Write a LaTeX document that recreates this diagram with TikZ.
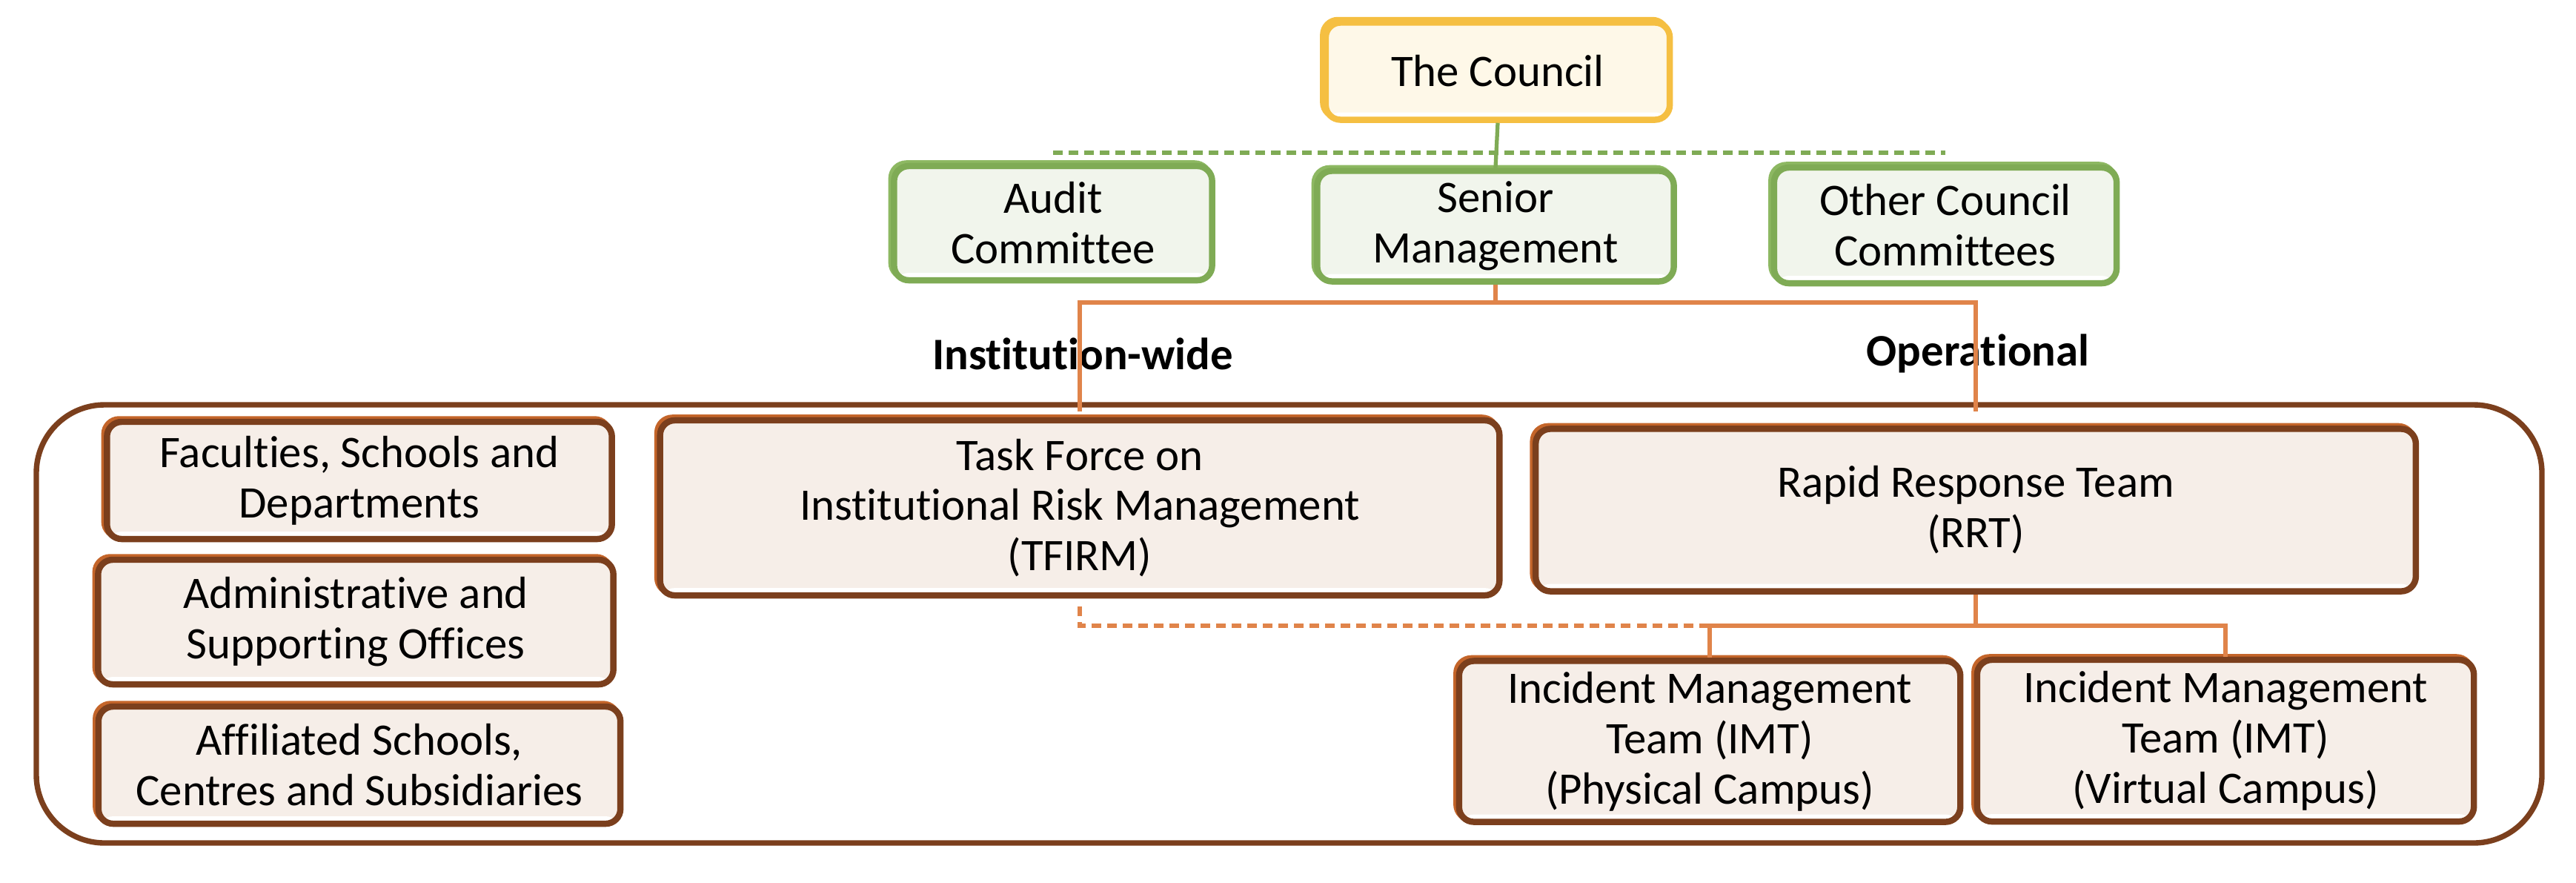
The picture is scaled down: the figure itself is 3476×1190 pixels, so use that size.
\documentclass[tikz,border=0pt]{standalone}
\usepackage{fontspec}
\setmainfont[Ligatures=NoCommon]{Carlito}
\usetikzlibrary{calc}
\definecolor{brownline}{HTML}{7B3F1D}
\definecolor{brownshade}{HTML}{C4652A}
\definecolor{brownfill}{HTML}{F6EEE8}
\definecolor{greenline}{HTML}{7FAB55}
\definecolor{greenshade}{HTML}{8DB862}
\definecolor{greenfill}{HTML}{F1F5EC}
\definecolor{yelline}{HTML}{F5BF42}
\definecolor{yelfill}{HTML}{FEF8E8}
\definecolor{orangeline}{HTML}{E0844A}
\tikzset{
  basebox/.style={rectangle, rounded corners=0.2cm, line width=2.4pt, align=center,
    inner sep=0pt, font=\fontsize{17.3}{19.3}\selectfont, text=black,
    path picture={\fill[white] ([yshift=-0.05cm]path picture bounding box.south west) rectangle ([yshift=0.1cm]path picture bounding box.south east);}},
  brownbox/.style={basebox, draw=brownline, fill=brownfill,
    preaction={draw=brownshade, line width=2.4pt, transform canvas={shift={(-0.035cm,0.035cm)}}}},
  greenbox/.style={basebox, draw=greenline, fill=greenfill,
    preaction={draw=greenshade, line width=2.4pt, transform canvas={shift={(-0.035cm,0.035cm)}}}},
  yelbox/.style={basebox, draw=yelline, fill=yelfill,
    preaction={draw=yelline, line width=2.4pt, transform canvas={shift={(-0.035cm,0.035cm)}}}},
  greenconn/.style={draw=greenline, line width=1.5pt},
  orangeconn/.style={draw=orangeline, line width=1.8pt},
  dashline/.style={dash pattern=on 0.13cm off 0.08cm},
  lbl/.style={font=\fontsize{17.3}{19.3}\selectfont\bfseries, inner sep=0pt}
}
\begin{document}
\begin{tikzpicture}[x=0.01cm,y=-0.01cm]
\useasboundingbox (0,0) rectangle (3476,1190);

% outer unit frame
\draw[brownline, line width=2.1pt, rounded corners=0.92cm] (49,546) rectangle (3430,1137);

% top level
\node[yelbox, minimum width=4.64cm, minimum height=1.31cm] (council) at (2021,96) {The Council};
\node[greenbox, minimum width=4.29cm, minimum height=1.54cm] (audit) at (1421,301) {Audit\\Committee};
\node[greenbox, minimum width=4.81cm, minimum height=1.49cm] (senior) at (2018,305) {Senior\\Management};
\node[greenbox, minimum width=4.62cm, minimum height=1.56cm] (other) at (2625,304) {Other Council\\Committees};

% left boxes
\node[brownbox, minimum width=6.81cm, minimum height=1.58cm] (fac) at (485,648) {Faculties, Schools and\\Departments};
\node[brownbox, minimum width=6.95cm, minimum height=1.68cm] (adm) at (480,839) {Administrative and\\Supporting Offices};
\node[brownbox, minimum width=7.04cm, minimum height=1.58cm] (aff) at (485,1032) {Affiliated Schools,\\Centres and Subsidiaries};

% teams
\node[brownbox, minimum width=11.32cm, minimum height=2.36cm] (tfirm) at (1457,685) {Task Force on\\Institutional Risk Management\\(TFIRM)};
\node[brownbox, minimum width=11.87cm, minimum height=2.19cm] (rrt) at (2666,688) {Rapid Response Team\\(RRT)};
\node[brownbox, minimum width=6.76cm, minimum height=2.17cm] (imt1) at (2307,1000) {Incident Management\\Team (IMT)\\(Physical Campus)};
\node[brownbox, minimum width=6.70cm, minimum height=2.18cm] (imt2) at (3003,999) {Incident Management\\Team (IMT)\\(Virtual Campus)};

% labels
\node[lbl] (lw) at (1461,477) {Institution-wide};
\node[lbl] (lo) at (2669,477) {Operational};

% green connectors
\coordinate (gbus) at (0,206);
\draw[greenconn] (council.south) -- (senior.north);
\draw[greenconn, dashline] (audit.north |- gbus) -- (other.north |- gbus);

% orange connectors
\coordinate (obus) at (0,408);
\coordinate (oend) at (0,555);
\draw[orangeconn] (senior.south) -- (senior.south |- obus);
\draw[orangeconn] (tfirm.north |- oend) -- (tfirm.north |- obus) -- (rrt.north |- obus) -- (rrt.north |- oend);

\coordinate (rbus) at (0,844);
\coordinate (tfs) at (0,818);
\draw[orangeconn] (rrt.south) -- (rrt.south |- rbus);
\draw[orangeconn] (imt1.north) -- (imt1.north |- rbus) -- (imt2.north |- rbus) -- (imt2.north);
\draw[orangeconn, dashline] (tfirm.south |- tfs) -- (tfirm.south |- rbus) -- (imt1.north |- rbus);
\end{tikzpicture}
\end{document}
